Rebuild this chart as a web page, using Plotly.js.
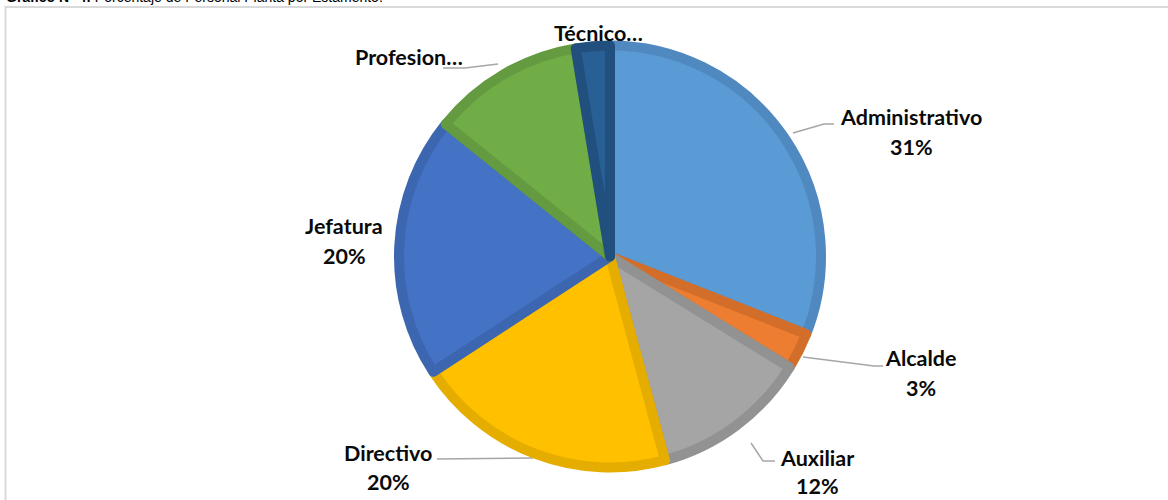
<!DOCTYPE html>
<html>
<head>
<meta charset="utf-8">
<script src="https://cdn.plot.ly/plotly-3.0.1.min.js"></script>
<style>html,body{margin:0;padding:0;background:#fff;}#chart{width:1168px;height:500px;}</style>
</head>
<body>
<div id="chart"></div>
<script>
// ---- data ----
const categories = ['Administrativo', 'Alcalde', 'Auxiliar', 'Directivo', 'Jefatura', 'Profesional', 'Técnico'];
const values = [31, 2.8, 12, 20, 20, 11.6, 2.6];
const displayLabels = ['Administrativo', 'Alcalde', 'Auxiliar', 'Directivo', 'Jefatura', 'Profesion…', 'Técnico…'];
const showPercent = [true, true, true, true, true, false, false];
const fillColors = ['#5B9BD5', '#ED7D31', '#A5A5A5', '#FFC000', '#4472C4', '#70AD47', '#285F94'];
const edgeColors = ['#5089C0', '#D36E2A', '#929292', '#E5AD00', '#3D66B0', '#659B40', '#22507E'];
const titleText = '<b>Gráfico N° 4:</b> Porcentaje de Personal Planta por Estamento.';

// ---- layout helpers ----
const W = 1168, H = 500;
const px = x => x / W;
const py = y => 1 - y / H;
const cx = 610, cy = 256.5, R = 211;

const total = values.reduce((a, b) => a + b, 0);
const pct = values.map(v => Math.round(v / total * 100) + '%');

// label placement (name centre, percent centre) and leader lines, in page pixels
const labelPos = [
  {n: [911, 117], p: [911, 147], line: [[793, 133], [824, 124], [834, 124]]},
  {n: [921, 358], p: [921, 388], line: [[803, 357], [874, 366], [883, 366]]},
  {n: [817, 458], p: [817, 486], line: [[751, 443], [763, 461], [775, 461]]},
  {n: [388, 453], p: [388, 482], line: [[437, 459], [533, 458]]},
  {n: [344, 226], p: [344, 256], line: null},
  {n: [409, 57], p: null, line: [[443, 68], [465, 68], [498, 64]]},
  {n: [598, 33], p: null, line: null}
];

const labelFont = {family: 'Lato, Carlito, Calibri, sans-serif', size: 21.5, color: '#0a0a0a'};
const annotations = [];
const shapes = [];
labelPos.forEach((lp, i) => {
  annotations.push({text: '<b>' + displayLabels[i] + '</b>', x: px(lp.n[0]), y: py(lp.n[1]),
    xref: 'paper', yref: 'paper', xanchor: 'center', yanchor: 'middle', showarrow: false, font: labelFont});
  if (showPercent[i] && lp.p) {
    annotations.push({text: '<b>' + pct[i] + '</b>', x: px(lp.p[0]), y: py(lp.p[1]),
      xref: 'paper', yref: 'paper', xanchor: 'center', yanchor: 'middle', showarrow: false, font: labelFont});
  }
  if (lp.line) {
    const d = lp.line.map((pt, k) => (k ? 'L' : 'M') + px(pt[0]) + ',' + py(pt[1])).join(' ');
    shapes.push({type: 'path', xref: 'paper', yref: 'paper', path: d, line: {color: '#A6A6A6', width: 1.5}, layer: 'below'});
  }
});

annotations.push({text: titleText, x: px(4), y: py(6.8), xref: 'paper', yref: 'paper',
  xanchor: 'left', yanchor: 'bottom', showarrow: false,
  font: {family: 'Liberation Sans, Arial, sans-serif', size: 14, color: '#000'}});

shapes.push({type: 'rect', xref: 'paper', yref: 'paper', x0: px(5.5), x1: px(1200), y0: py(7), y1: py(530),
  line: {color: '#D9D9D9', width: 2}, fillcolor: 'rgba(0,0,0,0)', layer: 'below'});

const trace = {
  type: 'pie',
  labels: categories,
  values: values,
  sort: false,
  direction: 'clockwise',
  rotation: 0,
  textinfo: 'none',
  hoverinfo: 'label+percent',
  marker: {colors: fillColors, line: {color: edgeColors, width: 10}},
  domain: {x: [px(cx - R), px(cx + R)], y: [py(cy + R), py(cy - R)]},
  showlegend: false
};

Plotly.newPlot('chart', [trace], {
  width: W, height: H,
  margin: {l: 0, r: 0, t: 0, b: 0},
  paper_bgcolor: '#fff',
  plot_bgcolor: '#fff',
  showlegend: false,
  annotations: annotations,
  shapes: shapes
}, {staticPlot: true});
</script>
</body>
</html>
